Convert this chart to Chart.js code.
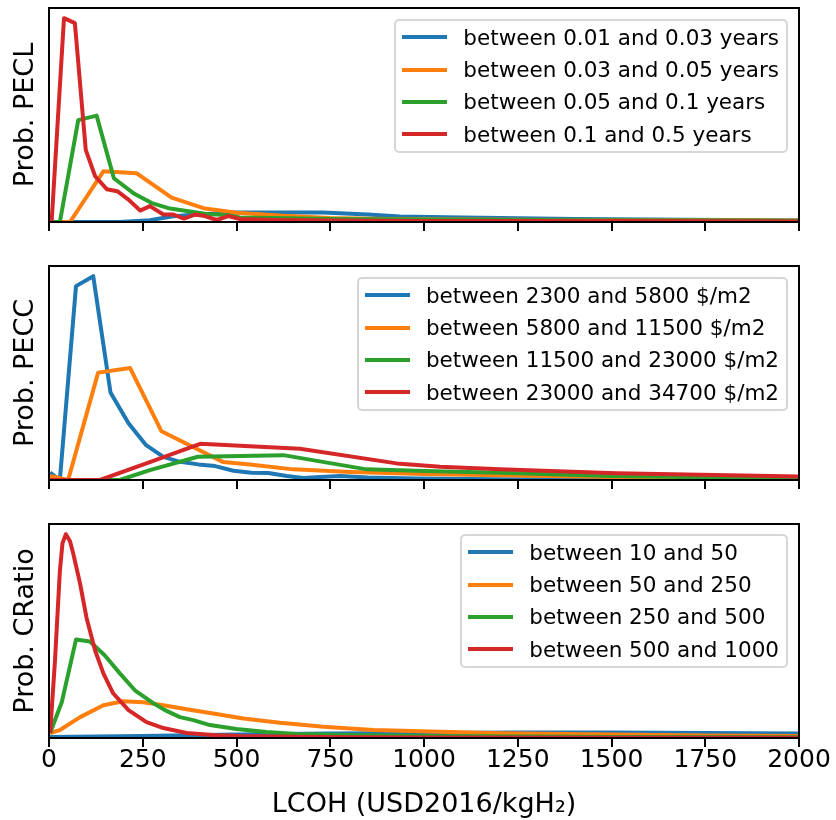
<!DOCTYPE html>
<html><head><meta charset="utf-8">
<script src="https://cdn.jsdelivr.net/npm/chart.js@4.4.1/dist/chart.umd.min.js"></script>
<style>
html,body{margin:0;padding:0;background:#fff;}
body{width:836px;height:820px;overflow:hidden;position:relative;font-family:"DejaVu Sans";}
.panel{position:absolute;left:0;width:836px;}
.legend{position:absolute;right:48px;background:rgba(255,255,255,0.8);border:2px solid #d6d6d6;border-radius:5px;padding:0 7px 0 6px;font-size:21.5px;color:#000;}
.row{display:flex;align-items:center;height:32.4px;white-space:nowrap;}
.swatch{width:45px;height:4px;margin-right:16px;flex:none;}
</style>
</head><body>
<div class="panel" style="top:0;height:245px"><canvas id="c1" width="836" height="245"></canvas></div>
<div class="panel" style="top:245px;height:258px"><canvas id="c2" width="836" height="258"></canvas></div>
<div class="panel" style="top:503px;height:317px"><canvas id="c3" width="836" height="317"></canvas></div>
<div class="legend" id="lg1" style="top:19px"></div>
<div class="legend" id="lg2" style="top:277px"></div>
<div class="legend" id="lg3" style="top:534px"></div>
<script>
// ---- x axis ticks ----
const xTicks = [0, 250, 500, 750, 1000, 1250, 1500, 1750, 2000];
const xLabel = 'LCOH (USD2016/kgH₂)';
const colors = ['#1f77b4', '#ff7f0e', '#2ca02c', '#d62728'];

// ---- Panel 1: PECL ----
const peclLabels = ['between 0.01 and 0.03 years', 'between 0.03 and 0.05 years', 'between 0.05 and 0.1 years', 'between 0.1 and 0.5 years'];
const peclBlueX = [0, 100, 189, 269, 331, 385, 492, 600, 731, 850, 936, 1100, 1203, 1400, 1600, 1800, 2000];
const peclBlueY = [0, 0, 0, 0.0018, 0.0058, 0.0073, 0.0096, 0.0096, 0.0096, 0.0076, 0.0056, 0.0045, 0.0040, 0.0030, 0.0025, 0.0020, 0.0016];
const peclOrangeX = [0, 56, 145, 234, 327, 416, 500, 625, 749, 900, 1100, 1400, 1700, 2000];
const peclOrangeY = [0, 0, 0.051, 0.049, 0.0245, 0.0135, 0.0093, 0.0063, 0.0040, 0.0030, 0.0025, 0.0020, 0.0018, 0.0015];
const peclGreenX = [0, 29, 78, 127, 173, 225, 274, 323, 367, 420, 474, 509, 600, 750, 1000, 1250, 1500, 1750, 2000];
const peclGreenY = [0, 0, 0.1025, 0.107, 0.044, 0.029, 0.019, 0.0135, 0.011, 0.008, 0.007, 0.0045, 0.004, 0.003, 0.0025, 0.002, 0.0018, 0.0015, 0.0012];
const peclRedX = [7, 40, 69, 98, 123, 154, 182, 212, 243, 269, 305, 332, 360, 389, 416, 447, 478, 509, 600, 750, 1000, 1250, 1500, 1750, 2000];
const peclRedY = [0, 0.205, 0.200, 0.0725, 0.046, 0.033, 0.031, 0.0225, 0.0115, 0.016, 0.0075, 0.0075, 0.0035, 0.0075, 0.006, 0.002, 0.006, 0.003, 0.002, 0.0015, 0.001, 0.001, 0.001, 0.0008, 0.0005];

// ---- Panel 2: PECC ----
const peccLabels = ['between 2300 and 5800 $/m2', 'between 5800 and 11500 $/m2', 'between 11500 and 23000 $/m2', 'between 23000 and 34700 $/m2'];
const peccBlueX = [3, 29, 72, 118, 164, 212, 259, 305, 349, 398, 443, 492, 540, 585, 634, 678, 723, 776, 850, 980, 1200, 1500, 2000];
const peccBlueY = [0.0075, 0, 0.195, 0.205, 0.088, 0.057, 0.035, 0.0233, 0.0183, 0.0157, 0.014, 0.0093, 0.0074, 0.007, 0.004, 0.002, 0.003, 0.004, 0.0025, 0.0014, 0.0008, 0.0005, 0.0003];
const peccOrangeX = [3, 51, 131, 216, 300, 465, 536, 651, 803, 1000, 1203, 1500, 1750, 2000];
const peccOrangeY = [0.004, 0, 0.108, 0.1127, 0.049, 0.018, 0.0157, 0.0107, 0.008, 0.006, 0.0047, 0.003, 0.002, 0.0015];
const peccGreenX = [3, 136, 189, 269, 397, 625, 847, 1000, 1203, 1500, 1750, 2000];
const peccGreenY = [0, 0, 0, 0.010, 0.0234, 0.025, 0.0107, 0.009, 0.0074, 0.004, 0.0028, 0.002];
const peccRedX = [3, 136, 269, 403, 669, 927, 1043, 1203, 1513, 2000];
const peccRedY = [0, 0, 0.018, 0.0364, 0.0314, 0.0167, 0.0133, 0.0107, 0.0067, 0.0034];

// ---- Panel 3: CRatio ----
const cratioLabels = ['between 10 and 50', 'between 50 and 250', 'between 250 and 500', 'between 500 and 1000'];
const cratioBlueX = [0, 250, 500, 750, 1000, 1250, 1500, 1750, 2000];
const cratioBlueY = [0.001, 0.002, 0.0035, 0.0045, 0.005, 0.0055, 0.0055, 0.005, 0.0045];
const cratioOrangeX = [3, 29, 83, 145, 198, 251, 305, 367, 438, 518, 616, 732, 865, 1043, 1203, 1500, 1750, 2000];
const cratioOrangeY = [0.005, 0.008, 0.021, 0.033, 0.037, 0.036, 0.033, 0.029, 0.0247, 0.0197, 0.0153, 0.0113, 0.008, 0.0063, 0.0047, 0.0035, 0.0025, 0.002];
const cratioGreenX = [3, 34, 72, 109, 149, 189, 229, 274, 309, 349, 385, 429, 500, 580, 660, 800, 1000, 1250, 1500, 2000];
const cratioGreenY = [0.005, 0.036, 0.099, 0.097, 0.083, 0.065, 0.048, 0.036, 0.028, 0.021, 0.018, 0.013, 0.009, 0.006, 0.004, 0.003, 0.002, 0.0015, 0.001, 0.0008];
const cratioRedX = [3, 16, 29, 36, 45, 56, 65, 83, 100, 123, 145, 171, 212, 260, 305, 367, 438, 509, 650, 800, 1000, 1500, 2000];
const cratioRedY = [0.005, 0.078, 0.168, 0.196, 0.205, 0.198, 0.185, 0.155, 0.121, 0.088, 0.065, 0.045, 0.028, 0.016, 0.010, 0.005, 0.003, 0.002, 0.0012, 0.0008, 0.0005, 0.0003, 0.0002];

const FONT = 'DejaVu Sans';
const zip = (xs, ys) => xs.map((x, i) => ({x: x, y: ys[i]}));

const framePlugin = {
  id: 'frame',
  afterDatasetsDraw(chart) {
    const a = chart.chartArea, ctx = chart.ctx;
    ctx.save();
    ctx.strokeStyle = '#000';
    ctx.lineWidth = 2;
    ctx.strokeRect(a.left, a.top, a.right - a.left, a.bottom - a.top);
    ctx.restore();
  }
};

function makePanel(canvasId, legendId, yTitle, labels, series, opts) {
  const datasets = series.map((s, i) => ({
    label: labels[i],
    data: zip(s[0], s[1]),
    borderColor: colors[i],
    backgroundColor: colors[i],
    borderWidth: 4,
    borderJoinStyle: 'round',
    pointRadius: 0,
    tension: 0,
    fill: false,
    order: 4 - i
  }));
  let maxY = 0;
  series.forEach(s => s[1].forEach(v => { if (v > maxY) maxY = v; }));
  const chart = new Chart(document.getElementById(canvasId), {
    type: 'line',
    data: {datasets: datasets},
    options: {
      responsive: false,
      animation: false,
      devicePixelRatio: 1,
      layout: {padding: {top: opts.padTop, right: 37, left: 0, bottom: 0}},
      plugins: {legend: {display: false}, tooltip: {enabled: false}},
      scales: {
        x: {
          type: 'linear', min: 0, max: 2000,
          afterBuildTicks: s => { s.ticks = xTicks.map(v => ({value: v})); },
          afterFit: s => { s.height = opts.xHeight; },
          grid: {display: true, drawOnChartArea: false, drawTicks: true, tickLength: 9, color: '#000', lineWidth: 2},
          border: {display: false},
          ticks: {
            display: opts.showTicks,
            padding: -2,
            color: '#000',
            font: {family: FONT, size: 25},
            maxRotation: 0,
            autoSkip: false,
            callback: v => String(v)
          },
          title: {
            display: opts.showTicks,
            text: xLabel,
            color: '#000',
            font: {family: FONT, size: 27},
            padding: {top: 0, bottom: -1}
          }
        },
        y: {
          min: 0, max: maxY * 1.05,
          afterFit: s => { s.width = 49; },
          grid: {display: false},
          border: {display: false},
          ticks: {display: false},
          title: {
            display: true,
            text: yTitle,
            color: '#000',
            font: {family: FONT, size: 27},
            padding: {top: 10, bottom: 0}
          }
        }
      }
    },
    plugins: [framePlugin]
  });
  const lg = document.getElementById(legendId);
  chart.data.datasets.forEach(ds => {
    const row = document.createElement('div');
    row.className = 'row';
    const sw = document.createElement('span');
    sw.className = 'swatch';
    sw.style.background = ds.borderColor;
    const tx = document.createElement('span');
    tx.textContent = ds.label;
    row.appendChild(sw);
    row.appendChild(tx);
    lg.appendChild(row);
  });
  return chart;
}

makePanel('c1', 'lg1', 'Prob. PECL', peclLabels,
  [[peclBlueX, peclBlueY], [peclOrangeX, peclOrangeY], [peclGreenX, peclGreenY], [peclRedX, peclRedY]],
  {padTop: 8, xHeight: 23, showTicks: false});
makePanel('c2', 'lg2', 'Prob. PECC', peccLabels,
  [[peccBlueX, peccBlueY], [peccOrangeX, peccOrangeY], [peccGreenX, peccGreenY], [peccRedX, peccRedY]],
  {padTop: 21, xHeight: 23, showTicks: false});
makePanel('c3', 'lg3', 'Prob. CRatio', cratioLabels,
  [[cratioBlueX, cratioBlueY], [cratioOrangeX, cratioOrangeY], [cratioGreenX, cratioGreenY], [cratioRedX, cratioRedY]],
  {padTop: 21, xHeight: 82, showTicks: true});
</script>
</body></html>
